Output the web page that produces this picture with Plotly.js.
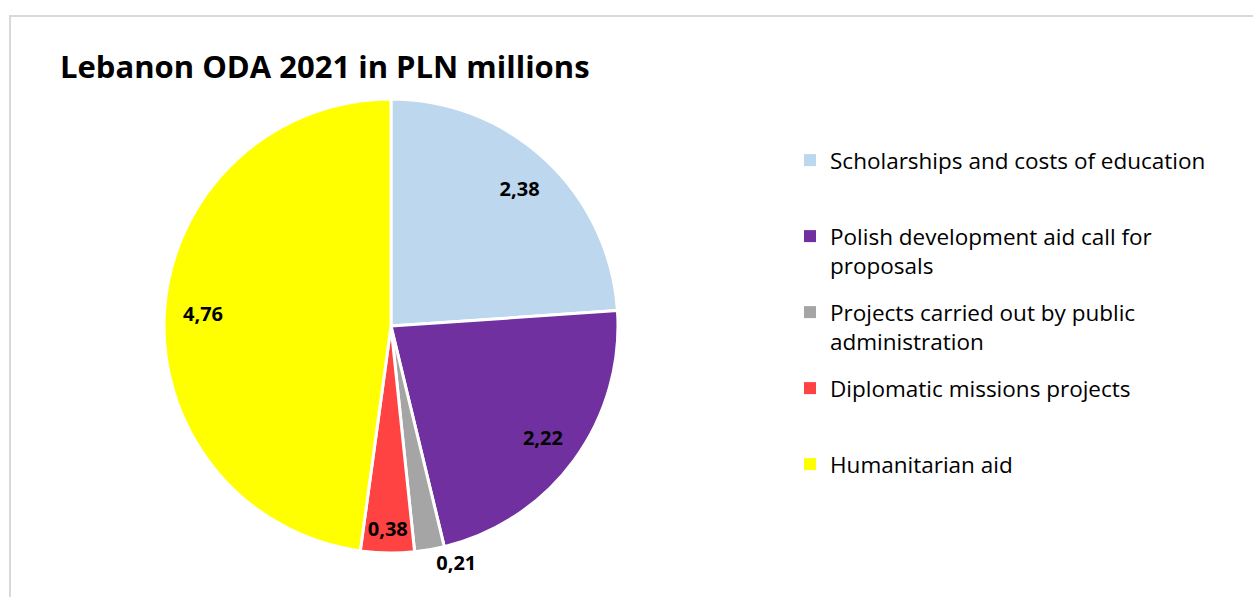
<!DOCTYPE html>
<html>
<head>
<meta charset="utf-8">
<script src="https://cdn.plot.ly/plotly-3.0.1.min.js"></script>
<style>
html, body { margin: 0; padding: 0; background: #ffffff; overflow: hidden; }
#frame { position: absolute; left: 9px; top: 15px; width: 1300px; height: 700px;
         border-top: 2px solid #D9D9D9; border-left: 2px solid #D9D9D9; }
#chart { position: absolute; left: 0; top: 0; width: 1253px; height: 597px; }
</style>
</head>
<body>
<div id="frame"></div>
<div id="chart"></div>
<script>
// ---- data ----
const chartTitle = "Lebanon ODA 2021 in PLN millions";
const categories = [
  "Scholarships and costs of education",
  "Polish development aid call for<br>proposals",
  "Projects carried out by public<br>administration",
  "Diplomatic missions projects",
  "Humanitarian aid"
];
const values = [2.38, 2.22, 0.21, 0.38, 4.76];
const sliceColors = ["#BDD7EE", "#7030A0", "#A5A5A5", "#FF4343", "#FFFF00"];
const labelPlacement = ["inside", "inside", "outside", "inside", "inside"];

// legend entries padded to equal height (2 lines each), like the Excel legend spacing
function padLines(c) {
  const n = c.split("<br>").length;
  let s = c;
  for (let i = n; i < 2; i++) s += "<br>\u00a0";
  return s;
}

const domain = { x: [0.1309, 0.4932], y: [0.0737, 0.8342] };

const pieTrace = {
  type: "pie",
  labels: categories,
  values: values,
  sort: false,
  direction: "clockwise",
  rotation: 0,
  domain: domain,
  marker: { colors: sliceColors, line: { color: "#ffffff", width: 3 } },
  textinfo: "none",
  hoverinfo: "label+value",
  showlegend: false
};

// transparent ring carrying the value labels near the outer edge
const labelTrace = {
  type: "pie",
  labels: categories,
  values: values,
  sort: false,
  direction: "clockwise",
  rotation: 0,
  domain: domain,
  hole: 0.66,
  marker: { colors: values.map(function () { return "rgba(0,0,0,0)"; }), line: { width: 0 } },
  texttemplate: "%{value:.2f}",
  textposition: labelPlacement,
  insidetextorientation: "horizontal",
  textfont: { family: "Open Sans", size: 20, weight: "bold", color: "#000000" },
  hoverinfo: "skip",
  showlegend: false
};

// legend entries (one per category, same colours as the slices; no drawn marks)
const legendTraces = categories.map(function (c, i) {
  return {
    type: "bar",
    x: [null], y: [null],
    name: padLines(c),
    marker: { color: sliceColors[i] },
    legendgroup: "g" + i,
    showlegend: true,
    hoverinfo: "skip"
  };
});

const layout = {
  width: 1253,
  height: 597,
  margin: { l: 0, r: 0, t: 0, b: 0, pad: 0 },
  paper_bgcolor: "rgba(0,0,0,0)",
  plot_bgcolor: "rgba(0,0,0,0)",
  separators: ", ",
  uniformtext: { mode: "show", minsize: 20 },
  xaxis: { visible: false, showgrid: false, zeroline: false },
  yaxis: { visible: false, showgrid: false, zeroline: false },
  title: {
    text: chartTitle,
    x: 0.0479, xanchor: "left", xref: "paper",
    y: 0.888, yanchor: "middle", yref: "container",
    font: { family: "Open Sans", size: 31, weight: "bold", color: "#000000" }
  },
  legend: {
    x: 0.6305, xanchor: "left",
    y: 0.7672, yanchor: "top",
    valign: "top",
    bgcolor: "rgba(0,0,0,0)",
    borderwidth: 0,
    traceorder: "grouped",
    tracegroupgap: 14.5,
    font: { family: "Open Sans", size: 22.5, color: "#000000" }
  },
  showlegend: true
};

Plotly.newPlot("chart", [pieTrace, labelTrace].concat(legendTraces), layout, { displayModeBar: false, staticPlot: true });
</script>
</body>
</html>
